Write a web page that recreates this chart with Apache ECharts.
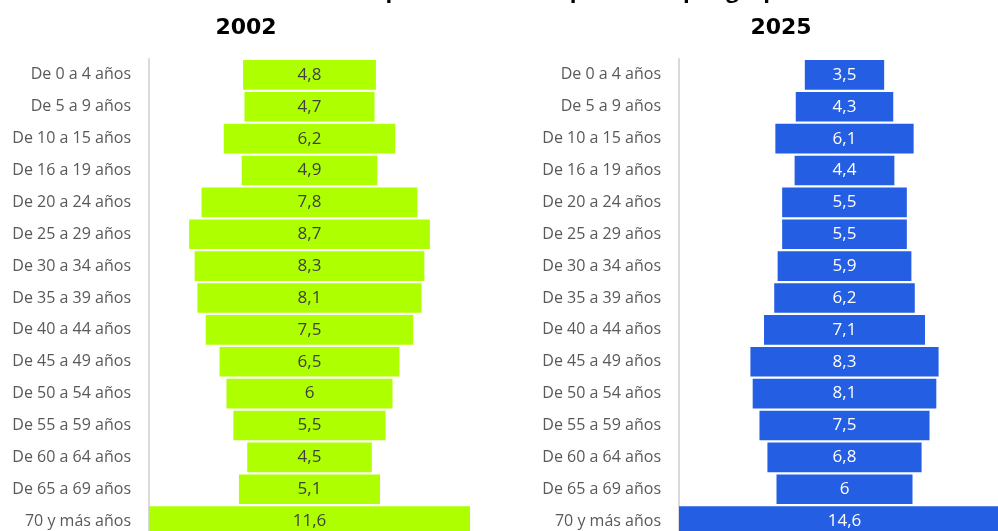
<!DOCTYPE html>
<html lang="es" style="height: 100%">
<head>
    <meta charset="utf-8">
    <script type="text/javascript" src="https://fastly.jsdelivr.net/npm/echarts@6.0.0/dist/echarts.min.js"></script>
</head>
<body style="height: 100%; margin: 0; background: #fff">
<div id="container" style="width: 998px; height: 531px"></div>
<script type="text/javascript">
    // grupos de edad
    var grupos = ['De 0 a 4 años', 'De 5 a 9 años', 'De 10 a 15 años', 'De 16 a 19 años', 'De 20 a 24 años',
        'De 25 a 29 años', 'De 30 a 34 años', 'De 35 a 39 años', 'De 40 a 44 años', 'De 45 a 49 años',
        'De 50 a 54 años', 'De 55 a 59 años', 'De 60 a 64 años', 'De 65 a 69 años', '70 y más años'];
    var datos2002 = [4.8, 4.7, 6.2, 4.9, 7.8, 8.7, 8.3, 8.1, 7.5, 6.5, 6, 5.5, 4.5, 5.1, 11.6];
    var datos2025 = [3.5, 4.3, 6.1, 4.4, 5.5, 5.5, 5.9, 6.2, 7.1, 8.3, 8.1, 7.5, 6.8, 6, 14.6];

    var fuente = '"Open Sans", "Noto Sans", sans-serif';

    function maximo(arr) {
        return Math.max.apply(null, arr);
    }
    // hueco invisible para centrar cada barra
    function huecos(arr) {
        var m = maximo(arr);
        var res = [];
        for (var i = 0; i < arr.length; i++) {
            res.push((m - arr[i]) / 2);
        }
        return res;
    }
    function coma(p) {
        return String(p.value).replace('.', ',');
    }

    var dom = document.getElementById('container');
    var myChart = echarts.init(dom, null, {renderer: 'canvas'});

    var option = {
        animation: false,
        title: [
            {
                text: 'Distribución porcentual de la población por grupos de edad',
                left: 240,
                top: -24,
                textStyle: {fontFamily: fuente, fontSize: 22, fontWeight: 'bold', color: '#000'}
            },
            {
                text: '2002',
                left: 241,
                textAlign: 'center',
                top: 12,
                textStyle: {fontFamily: '"DejaVu Sans", sans-serif', fontSize: 22, fontWeight: 'bold', color: '#000'}
            },
            {
                text: '2025',
                left: 776,
                textAlign: 'center',
                top: 12,
                textStyle: {fontFamily: '"DejaVu Sans", sans-serif', fontSize: 22, fontWeight: 'bold', color: '#000'}
            }
        ],
        grid: [
            {left: 149, top: 59, width: 321, height: 478, outerBoundsMode: 'none'},
            {left: 679, top: 59, width: 331, height: 478, outerBoundsMode: 'none'}
        ],
        xAxis: [
            {gridIndex: 0, type: 'value', min: 0, max: maximo(datos2002), show: false},
            {gridIndex: 1, type: 'value', min: 0, max: maximo(datos2025), show: false}
        ],
        yAxis: [0, 1].map(function (g) {
            return {
                gridIndex: g,
                type: 'category',
                inverse: true,
                data: grupos,
                axisTick: {show: false},
                axisLine: {show: true, lineStyle: {color: '#d9d9d9', width: 2}},
                axisLabel: {fontFamily: fuente, fontSize: 16, color: '#595959', margin: 18},
                splitLine: {show: false}
            };
        }),
        series: [
            {
                type: 'bar', stack: 'a', xAxisIndex: 0, yAxisIndex: 0,
                data: huecos(datos2002),
                itemStyle: {color: 'transparent'},
                barCategoryGap: '7%',
                silent: true
            },
            {
                name: '2002', type: 'bar', stack: 'a', xAxisIndex: 0, yAxisIndex: 0,
                data: datos2002,
                itemStyle: {color: '#aeff00'},
                barCategoryGap: '7%',
                label: {show: true, position: 'inside', formatter: coma,
                    fontFamily: fuente, fontSize: 17, color: '#404040'}
            },
            {
                type: 'bar', stack: 'b', xAxisIndex: 1, yAxisIndex: 1,
                data: huecos(datos2025),
                itemStyle: {color: 'transparent'},
                barCategoryGap: '7%',
                silent: true
            },
            {
                name: '2025', type: 'bar', stack: 'b', xAxisIndex: 1, yAxisIndex: 1,
                data: datos2025,
                itemStyle: {color: '#245ee2'},
                barCategoryGap: '7%',
                label: {show: true, position: 'inside', formatter: coma,
                    fontFamily: fuente, fontSize: 17, color: '#ffffff'}
            }
        ]
    };

    myChart.setOption(option);
    window.addEventListener('resize', myChart.resize);
</script>
</body>
</html>
